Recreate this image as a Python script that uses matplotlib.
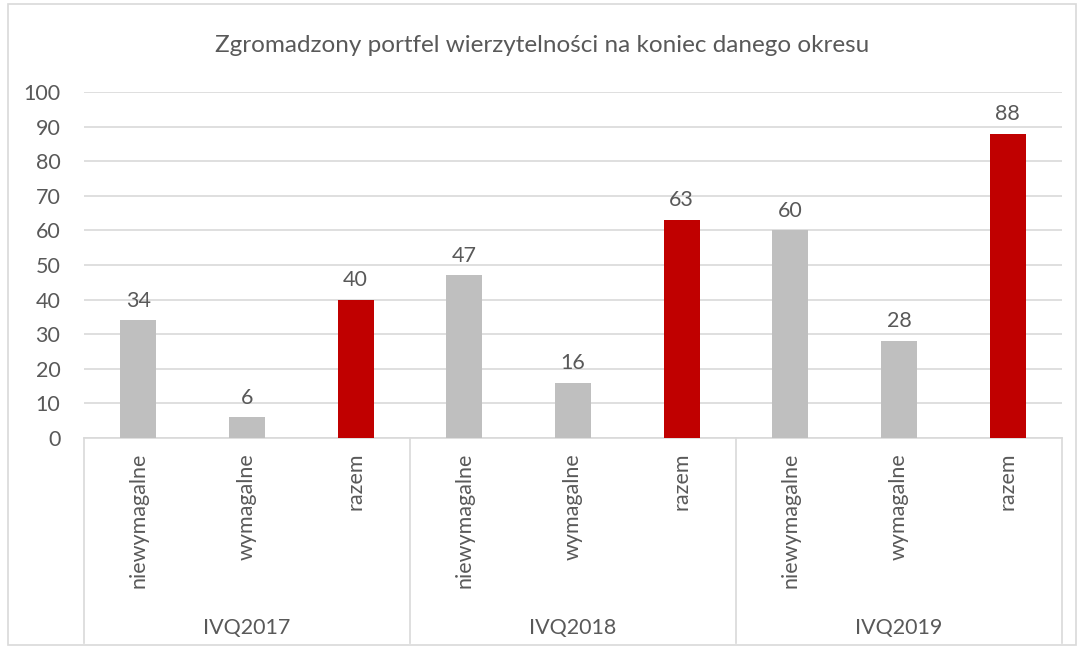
import matplotlib
matplotlib.use("Agg")
import matplotlib.pyplot as plt
from matplotlib.patches import Rectangle
import matplotlib.transforms as mtransforms

groups = ["IVQ2017", "IVQ2018", "IVQ2019"]
subcats = ["niewymagalne", "wymagalne", "razem"]
values = [34, 6, 40, 47, 16, 63, 60, 28, 88]
bar_colors = ["#BFBFBF", "#BFBFBF", "#C00000"] * 3
yticks = [0, 10, 20, 30, 40, 50, 60, 70, 80, 90, 100]
title = "Zgromadzony portfel wierzytelności na koniec danego okresu"

plt.rcParams['font.family'] = ['Lato', 'DejaVu Sans']
txt = "#595959"
grid = "#D9D9D9"

W, H = 1084, 653
fig = plt.figure(figsize=(W / 100, H / 100), dpi=100)
ax = fig.add_axes([84 / W, (H - 438) / H, (1062 - 84) / W, (438 - 92) / H])

n = len(values)
xs = list(range(n))
ax.bar(xs, values, width=0.33, color=bar_colors, zorder=3)
for x, v in zip(xs, values):
    ax.annotate(str(v), (x, v), xytext=(0, 7), textcoords="offset points",
                ha="center", va="bottom", fontsize=15.5, color=txt)

ax.set_xlim(-0.5, n - 0.5)
ax.set_ylim(0, 100)
ax.set_yticks(yticks)
ax.set_yticklabels([str(t) for t in yticks], fontsize=15.5, color=txt)
ax.tick_params(axis="y", length=0, pad=17)
ax.set_xticks([])
ax.grid(axis="y", color=grid, linewidth=1.2, zorder=0)
for s in ["top", "right", "left"]:
    ax.spines[s].set_visible(False)
ax.spines["bottom"].set_color(grid)
ax.spines["bottom"].set_linewidth(1.2)

trans = mtransforms.blended_transform_factory(ax.transData, ax.transAxes)
bottom = -(643 - 438) / (438 - 92)
for i, x in enumerate(xs):
    ax.text(x, -0.043, subcats[i % 3], rotation=90, ha="center", va="top",
            fontsize=15.5, color=txt, transform=trans)
for g in range(len(groups) + 1):
    xb = g * 3 - 0.5
    ax.plot([xb, xb], [0, bottom], color=grid, linewidth=1.2,
            transform=trans, clip_on=False)
for g, name in enumerate(groups):
    ax.text(g * 3 + 1, -0.549, name, ha="center", va="center",
            fontsize=15.5, color=txt, transform=trans)

fig.text(0.5, (H - 45) / H, title, ha="center", va="center",
         fontsize=17.5, color=txt)
fig.patches.append(Rectangle((8 / W, 8 / H), (W - 16) / W, (H - 12) / H,
                             transform=fig.transFigure, fill=False,
                             edgecolor=grid, linewidth=1.2))

fig.savefig("out.png", dpi=100)
